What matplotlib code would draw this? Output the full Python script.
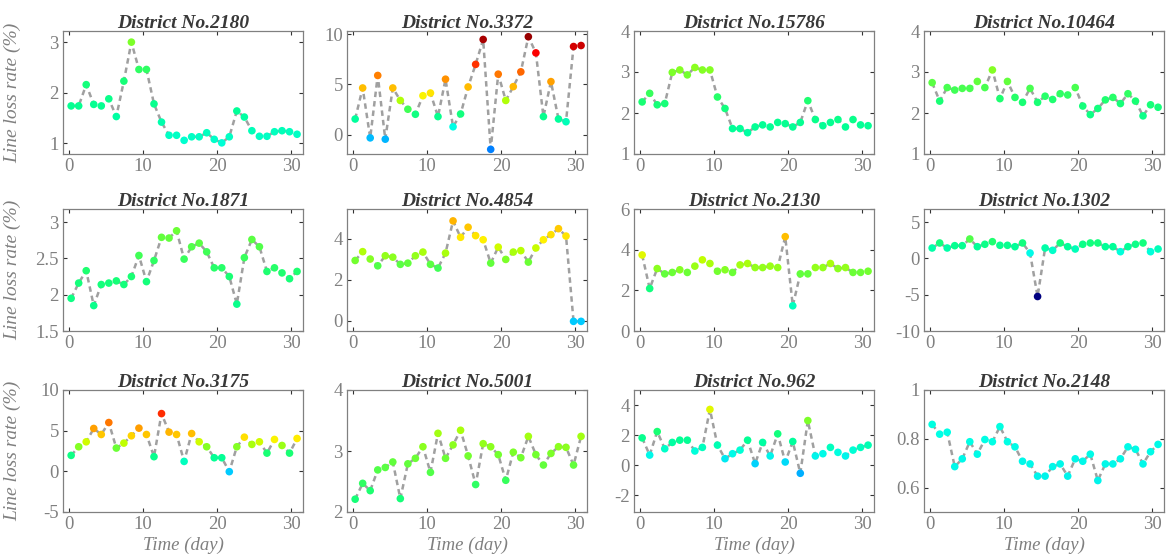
import numpy as np
import matplotlib.pyplot as plt
from matplotlib.colors import LinearSegmentedColormap

# day positions (31 days per district)
days = np.linspace(0.3, 30.8, 31)

districts = ["2180", "3372", "15786", "10464",
             "1871", "4854", "2130", "1302",
             "3175", "5001", "962", "2148"]

d2180 = [1.74, 1.74, 2.16, 1.77, 1.74, 1.88, 1.53, 2.23, 3.00, 2.46, 2.46, 1.78, 1.42, 1.16, 1.16, 1.06,
         1.13, 1.13, 1.21, 1.08, 1.01, 1.13, 1.64, 1.52, 1.25, 1.14, 1.14, 1.23, 1.25, 1.23, 1.18]
d3372 = [1.57, 4.65, -0.30, 5.89, -0.43, 4.65, 3.41, 2.54, 2.04, 3.88, 4.15, 1.81, 5.52, 0.80, 2.07, 4.75,
         6.99, 9.46, -1.44, 6.02, 3.41, 4.78, 6.25, 9.73, 8.13, 1.81, 5.28, 1.57, 1.30, 8.76, 8.86]
d15786 = [2.27, 2.48, 2.20, 2.23, 2.99, 3.05, 2.93, 3.11, 3.05, 3.05, 2.39, 2.11, 1.62, 1.62, 1.52, 1.66,
          1.71, 1.66, 1.77, 1.74, 1.66, 1.77, 2.30, 1.84, 1.69, 1.77, 1.84, 1.66, 1.84, 1.71, 1.69]
d10464 = [2.74, 2.29, 2.62, 2.56, 2.60, 2.60, 2.77, 2.62, 3.05, 2.35, 2.77, 2.38, 2.26, 2.60, 2.26, 2.41,
          2.33, 2.47, 2.44, 2.62, 2.17, 1.96, 2.11, 2.32, 2.38, 2.23, 2.47, 2.29, 1.93, 2.20, 2.14]
d1871 = [1.95, 2.16, 2.33, 1.85, 2.14, 2.16, 2.19, 2.14, 2.25, 2.54, 2.18, 2.47, 2.79, 2.78, 2.88, 2.49,
         2.66, 2.71, 2.59, 2.37, 2.37, 2.25, 1.87, 2.51, 2.76, 2.66, 2.32, 2.37, 2.30, 2.22, 2.32]
d4854 = [2.94, 3.37, 3.01, 2.68, 3.17, 3.10, 2.75, 2.81, 3.17, 3.35, 2.75, 2.57, 3.30, 4.87, 4.07, 4.56,
         4.15, 3.95, 2.81, 3.59, 2.99, 3.35, 3.42, 2.86, 3.55, 3.95, 4.20, 4.49, 4.13, -0.03, -0.03]
d2130 = [3.74, 2.09, 3.07, 2.81, 2.88, 3.01, 2.88, 3.19, 3.50, 3.32, 2.94, 3.01, 2.88, 3.25, 3.32, 3.12,
         3.12, 3.19, 3.12, 4.64, 1.24, 2.81, 2.81, 3.12, 3.12, 3.32, 3.07, 3.12, 2.88, 2.88, 2.94]
d1302 = [1.43, 2.12, 1.43, 1.75, 1.75, 2.67, 1.61, 1.94, 2.30, 1.80, 1.80, 1.61, 2.12, 0.74, -5.25, 1.43,
         1.11, 2.12, 1.61, 1.29, 1.94, 2.12, 2.12, 1.61, 1.61, 0.92, 1.61, 1.94, 2.12, 0.92, 1.29]
d3175 = [1.96, 3.02, 3.63, 5.27, 4.53, 6.00, 2.86, 3.47, 4.37, 5.31, 4.53, 1.80, 7.10, 4.82, 4.53, 1.22,
         4.65, 3.63, 3.02, 1.67, 1.67, -0.04, 3.02, 4.20, 3.31, 3.63, 2.24, 3.92, 3.18, 2.24, 4.04]
d5001 = [2.21, 2.47, 2.35, 2.69, 2.73, 2.82, 2.22, 2.79, 2.88, 3.07, 2.65, 3.29, 2.88, 3.10, 3.34, 2.92,
         2.45, 3.12, 3.07, 2.94, 2.52, 2.98, 2.89, 3.24, 2.94, 2.77, 2.96, 3.07, 3.06, 2.77, 3.24]
d962 = [1.82, 0.68, 2.24, 1.10, 1.52, 1.67, 1.67, 0.95, 1.19, 3.71, 1.34, 0.44, 0.77, 1.01, 1.67, 0.11,
        1.52, 0.62, 2.09, 0.22, 1.58, -0.53, 2.97, 0.62, 0.77, 1.19, 0.86, 0.62, 1.01, 1.19, 1.34]
d2148 = [0.859, 0.819, 0.827, 0.686, 0.718, 0.788, 0.737, 0.797, 0.788, 0.850, 0.788, 0.767, 0.708, 0.697,
         0.647, 0.647, 0.686, 0.697, 0.647, 0.718, 0.708, 0.737, 0.629, 0.697, 0.697, 0.718, 0.767, 0.757,
         0.697, 0.747, 0.777]

series = [d2180, d3372, d15786, d10464, d1871, d4854, d2130, d1302, d3175, d5001, d962, d2148]

ylims = [(0.79, 3.22), (-1.9, 10.3), (1, 4), (1, 4),
         (1.5, 3.18), (-0.5, 5.45), (0, 6), (-10, 6.8),
         (-5, 10), (2, 4), (-3.1, 5), (0.5, 1.0)]
yticks = [[1, 2, 3], [0, 5, 10], [1, 2, 3, 4], [1, 2, 3, 4],
          [1.5, 2, 2.5, 3], [0, 2, 4], [0, 2, 4, 6], [-10, -5, 0, 5],
          [-5, 0, 5, 10], [2, 3, 4], [-2, 0, 2, 4], [0.6, 0.8, 1]]

allv = np.concatenate([np.array(s) for s in series])
vmin, vmax = allv.min(), allv.max()

# jet-like colour scale as it looks in the original (value -> colour)
anchors = [(-5.25, (0.0, 0.0, 0.5)), (-1.44, (0.0, 0.5, 1.0)), (0.0, (0.0, 0.8, 1.0)),
           (0.8, (0.0, 1.0, 0.9)), (1.6, (0.0, 1.0, 0.6)), (2.3, (0.1, 1.0, 0.45)),
           (3.0, (0.5, 1.0, 0.15)), (3.5, (0.75, 1.0, 0.0)), (3.95, (1.0, 0.95, 0.0)),
           (4.65, (1.0, 0.75, 0.0)), (5.9, (1.0, 0.5, 0.0)), (7.0, (1.0, 0.2, 0.0)),
           (8.1, (1.0, 0.0, 0.0)), (9.73, (0.6, 0.0, 0.0))]
cmap = LinearSegmentedColormap.from_list(
    'loss', [((v - vmin) / (vmax - vmin), col) for v, col in anchors])

plt.rcParams['font.family'] = ['Liberation Serif', 'DejaVu Serif']

fig = plt.figure(figsize=(11.66, 5.57), dpi=100)
W, H = 1166.0, 557.0
lefts = [63, 347, 634, 924]
rows = [(31, 154), (209, 331), (390, 512)]
gray = '#808080'

for k, (name, vals) in enumerate(zip(districts, series)):
    r, c = divmod(k, 4)
    top, bot = rows[r]
    ax = fig.add_axes([lefts[c] / W, (H - bot) / H, 240 / W, (bot - top) / H])
    ax.plot(days, vals, '--', color='#a0a0a0', lw=1.8, dashes=(2.2, 1.6), zorder=1)
    ax.scatter(days, vals, c=vals, cmap=cmap, vmin=vmin, vmax=vmax, s=30,
               edgecolors='none', zorder=2)
    ax.set_xlim(-0.8, 31.6)
    ax.set_ylim(*ylims[k])
    ax.set_xticks([0, 10, 20, 30])
    ax.set_yticks(yticks[k])
    ax.set_yticklabels(['%g' % t for t in yticks[k]])
    ax.tick_params(direction='in', length=3, width=0.8, top=True, right=True,
                   color='#333333', labelcolor=gray, labelsize=13.5, pad=3)
    for sp in ax.spines.values():
        sp.set_color(gray)
        sp.set_linewidth(0.9)
    ax.set_title('District No.' + name, fontsize=14, fontweight='bold',
                 fontstyle='italic', color='#383838', pad=2)
    if c == 0:
        ax.set_ylabel('Line loss rate (%)', fontsize=14, fontstyle='italic', color=gray)
        ax.yaxis.set_label_coords(-0.175, 0.5)
    if r == 2:
        ax.set_xlabel('Time (day)', fontsize=13.5, fontstyle='italic', color=gray)
        ax.xaxis.set_label_coords(0.5, -0.2)

fig.savefig('out.png', dpi=100)
